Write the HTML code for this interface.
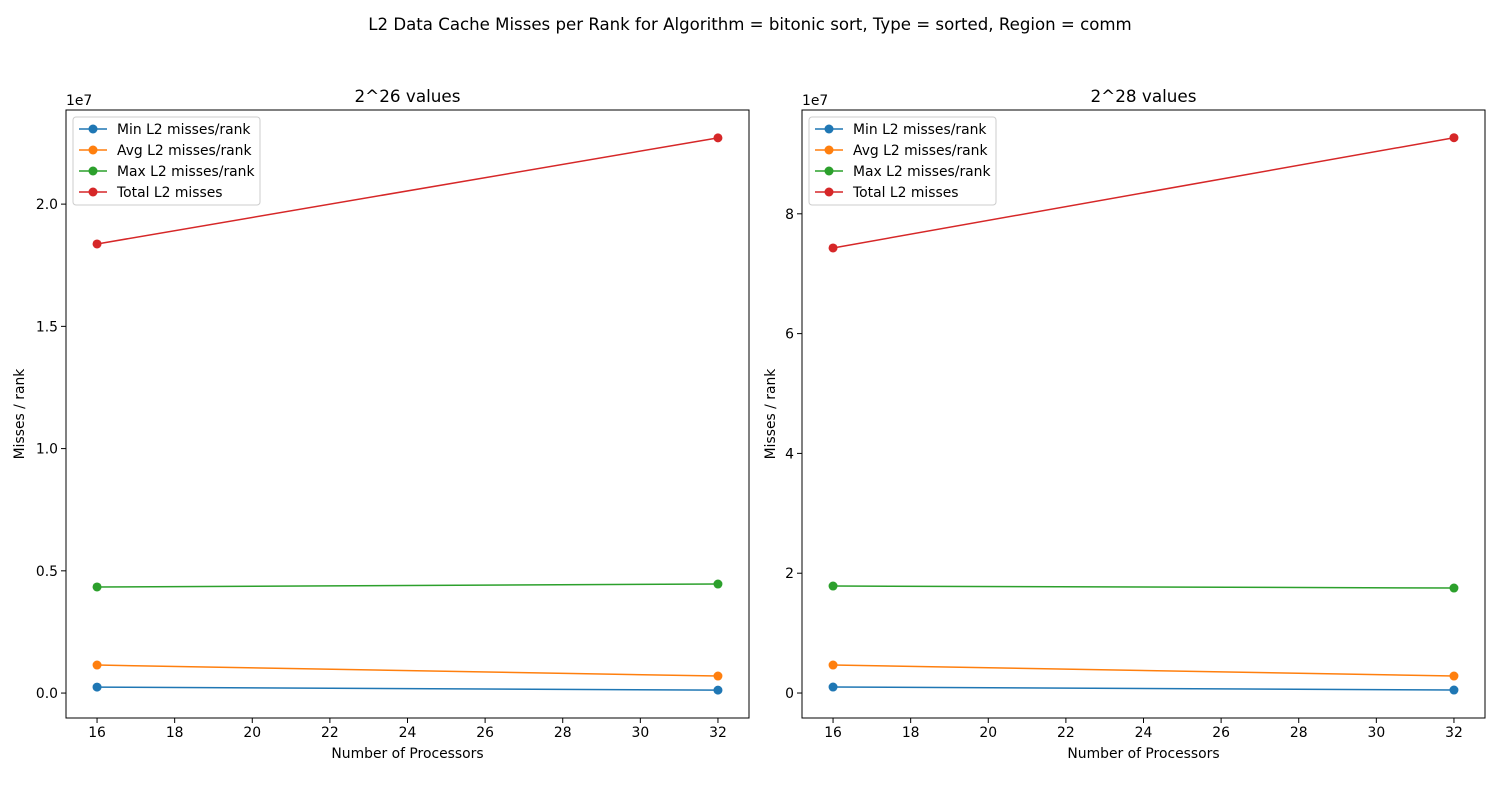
<!DOCTYPE html>
<html><head><meta charset="utf-8">
<style>
body{margin:0;background:#fff;}
svg{display:block;font-family:"DejaVu Sans","Liberation Sans",sans-serif;}
</style></head>
<body>
<svg id="chart" width="1500" height="800" viewBox="0 0 1500 800">
<rect width="1500" height="800" fill="#fff"/>
<text x="750" y="30" text-anchor="middle" font-size="16.6">L2 Data Cache Misses per Rank for Algorithm = bitonic sort, Type = sorted, Region = comm</text>
</svg>
<script>
const categories = [16, 32];
const seriesNames = ["Min L2 misses/rank","Avg L2 misses/rank","Max L2 misses/rank","Total L2 misses"];
const colors = ["#1f77b4","#ff7f0e","#2ca02c","#d62728"];
const left_min = [245000, 120000];
const left_avg = [1146000, 696000];
const left_max = [4340000, 4460000];
const left_total = [18370000, 22710000];
const right_min = [1000000, 500000];
const right_avg = [4670000, 2840000];
const right_max = [17860000, 17530000];
const right_total = [74300000, 92700000];
const xTicks = [16,18,20,22,24,26,28,30,32];
const leftYTicks = [0, 5e6, 1e7, 1.5e7, 2e7];
const leftYLabels = ["0.0","0.5","1.0","1.5","2.0"];
const rightYTicks = [0, 2e7, 4e7, 6e7, 8e7];
const rightYLabels = ["0","2","4","6","8"];

const svg = document.getElementById('chart');
const NS = "http://www.w3.org/2000/svg";
const FS = 13.9;
function mk(tag, attrs, parent){const e=document.createElementNS(NS,tag);for(const k in attrs)e.setAttribute(k,attrs[k]);(parent||svg).appendChild(e);return e;}

function panel(px0, px1, title, series, yTicks, yLabels, yMin, yMax, name, ylOff){
  const py0=110, py1=718;
  const g = mk('g',{});
  
  
  const xMin=15.2, xMax=32.8;
  const X = v => px0 + (v-xMin)/(xMax-xMin)*(px1-px0);
  const Y = v => py1 - (v-yMin)/(yMax-yMin)*(py1-py0);
  xTicks.forEach(t=>{
    const x=X(t);
    mk('line',{x1:x,x2:x,y1:py1,y2:py1+5,stroke:'#000','stroke-width':1},g);
    const tx=mk('text',{x:x,y:py1+19,'text-anchor':'middle','font-size':FS},g);
    tx.textContent=t;
    
    
  });
  yTicks.forEach((t,i)=>{
    const y=Y(t);
    mk('line',{x1:px0-5,x2:px0,y1:y,y2:y,stroke:'#000','stroke-width':1},g);
    const tx=mk('text',{x:px0-8,y:y+5,'text-anchor':'end','font-size':FS},g);
    tx.textContent=yLabels[i];
    
    
  });
  const ex=mk('text',{x:px0,y:py0-5,'font-size':FS},g); ex.textContent='1e7';
  
  
  series.forEach((s,i)=>{
    const pts=s.map((v,j)=>X(categories[j])+','+Y(v)).join(' ');
    const pl=mk('polyline',{points:pts,fill:'none',stroke:colors[i],'stroke-width':1.5},g);
    
    
    s.forEach((v,j)=>{
      const c=mk('circle',{cx:X(categories[j]),cy:Y(v),r:4.5,fill:colors[i]},g);
      
      
    });
  });
  mk('rect',{x:px0,y:py0,width:px1-px0,height:py1-py0,fill:'none',stroke:'#000','stroke-width':1},g);
  const tt=mk('text',{x:(px0+px1)/2,y:py0-8,'text-anchor':'middle','font-size':16.8},g); tt.textContent=title;
  
  
  const xl=mk('text',{x:(px0+px1)/2,y:758,'text-anchor':'middle','font-size':FS},g); xl.textContent='Number of Processors';
  
  
  const yl=mk('text',{x:0,y:0,'text-anchor':'middle','font-size':FS,transform:`translate(${px0-ylOff},${(py0+py1)/2}) rotate(-90)`},g); yl.textContent='Misses / rank';
  
  
  const lg=mk('g',{},g);
  
  
  mk('rect',{x:px0+7,y:117,width:187,height:88,rx:3,fill:'#fff',stroke:'#ccc','stroke-width':1},lg);
  seriesNames.forEach((n,i)=>{
    const y=129+i*21;
    mk('line',{x1:px0+13,x2:px0+41,y1:y,y2:y,stroke:colors[i],'stroke-width':1.5},lg);
    mk('circle',{cx:px0+27,cy:y,r:4.5,fill:colors[i]},lg);
    const t=mk('text',{x:px0+51,y:y+5,'font-size':FS},lg); t.textContent=n;
    
    
  });
}
panel(66,749,'2^26 values',[left_min,left_avg,left_max,left_total],leftYTicks,leftYLabels,-1.02e6,2.385e7,'left-panel',42);
panel(802,1485,'2^28 values',[right_min,right_avg,right_max,right_total],rightYTicks,rightYLabels,-4.17e6,9.733e7,'right-panel',27);
</script>
</body></html>
